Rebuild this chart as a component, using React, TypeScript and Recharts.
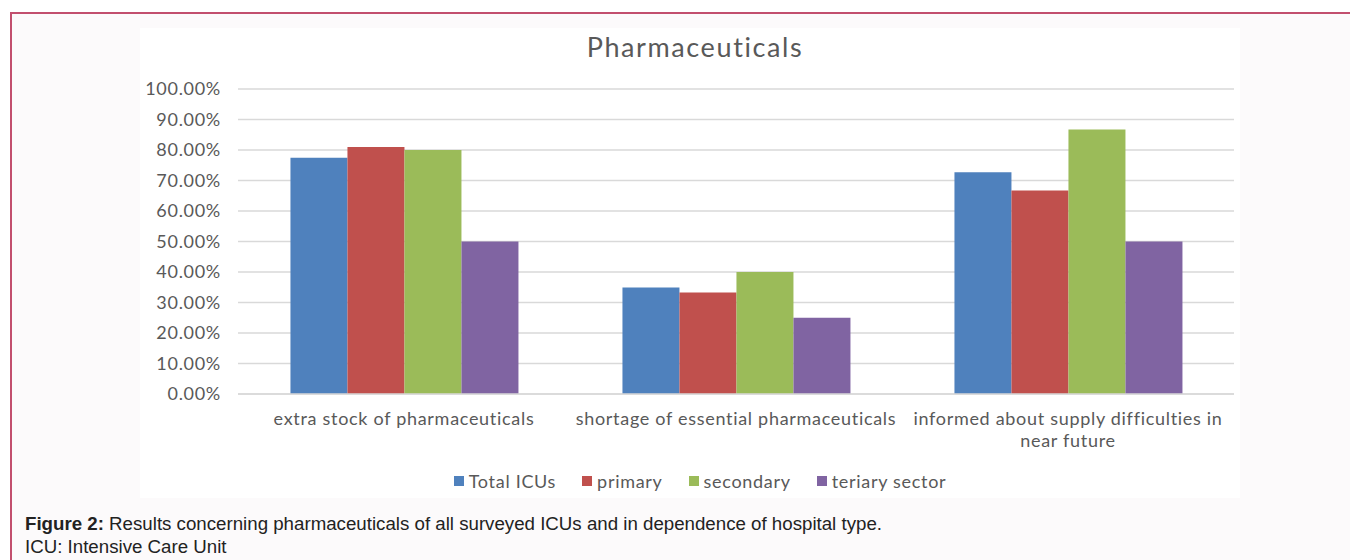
import { Bar, BarChart, CartesianGrid, XAxis, YAxis } from "recharts";

// "\n" marks where the original label wraps
const CATEGORIES = [
  "extra stock of pharmaceuticals",
  "shortage of essential pharmaceuticals",
  "informed about supply difficulties in\nnear future",
];

const TOTAL_ICUS = [0.775, 0.349, 0.727];
const PRIMARY = [0.81, 0.333, 0.667];
const SECONDARY = [0.8, 0.4, 0.867];
const TERTIARY = [0.5, 0.25, 0.5];

const Y_TICKS = [0, 0.1, 0.2, 0.3, 0.4, 0.5, 0.6, 0.7, 0.8, 0.9, 1];

const SERIES = [
  { key: "total", label: "Total ICUs", color: "#4f81bd", values: TOTAL_ICUS },
  { key: "primary", label: "primary", color: "#c0504d", values: PRIMARY },
  { key: "secondary", label: "secondary", color: "#9bbb59", values: SECONDARY },
  { key: "tertiary", label: "teriary sector", color: "#8064a2", values: TERTIARY },
];

const data = CATEGORIES.map((name, i) => {
  const row: Record<string, string | number> = { name };
  SERIES.forEach((s) => {
    row[s.key] = s.values[i];
  });
  return row;
});

const INK = "#595959";
const FONT = "Lato, 'Open Sans', sans-serif";

function CategoryTick({ x, y, payload }: { x?: number; y?: number; payload?: { value: string } }) {
  const lines = (payload?.value ?? "").split("\n");
  return (
    <text
      x={x}
      y={(y ?? 0) + 29}
      textAnchor="middle"
      fill={INK}
      style={{ fontFamily: FONT, fontSize: 18, letterSpacing: 0.7 }}
    >
      {lines.map((line, i) => (
        <tspan key={i} x={x} dy={i === 0 ? 0 : 22}>
          {line}
        </tspan>
      ))}
    </text>
  );
}

export default function App() {
  return (
    <div
      style={{
        position: "relative",
        width: 1358,
        height: 560,
        margin: "-8px -8px 0 -8px",
        overflow: "hidden",
        background: "#fff",
      }}
    >
      <div
        style={{
          position: "absolute",
          left: 10,
          top: 12,
          width: 1400,
          height: 600,
          borderTop: "2px solid #c24f6e",
          borderLeft: "2px solid #c24f6e",
          background: "#fcfafb",
        }}
      />
      <div
        style={{
          position: "absolute",
          left: 140,
          top: 28,
          width: 1100,
          height: 470,
          background: "#fff",
        }}
      >
        <div
          style={{
            position: "absolute",
            left: 0,
            width: 1110,
            top: 2,
            textAlign: "center",
            fontFamily: FONT,
            fontSize: 27,
            letterSpacing: 1.6,
            color: INK,
          }}
        >
          Pharmaceuticals
        </div>
        <BarChart
          width={1100}
          height={470}
          data={data}
          margin={{ top: 61, right: 6, left: 0, bottom: 74 }}
          barCategoryGap="15.8%"
          barGap={0}
        >
          <CartesianGrid vertical={false} stroke="#d9d9d9" strokeWidth={1.5} />
          <YAxis
            width={98}
            domain={[0, 1]}
            ticks={Y_TICKS}
            axisLine={false}
            tickLine={false}
            tickSize={0}
            tickMargin={17}
            tickFormatter={(v: number) => `${(v * 100).toFixed(2)}%`}
            tick={{ fill: INK, fontFamily: FONT, fontSize: 18, letterSpacing: 0.7 }}
          />
          <XAxis
            dataKey="name"
            height={30}
            axisLine={{ stroke: "#d9d9d9", strokeWidth: 1.5 }}
            tickLine={false}
            tickSize={0}
            interval={0}
            tick={<CategoryTick />}
          />
          {SERIES.map((s) => (
            <Bar key={s.key} dataKey={s.key} fill={s.color} isAnimationActive={false} />
          ))}
        </BarChart>
        <div
          style={{
            position: "absolute",
            left: 0,
            width: 1120,
            top: 442,
            display: "flex",
            justifyContent: "center",
            gap: 26,
            fontFamily: FONT,
            fontSize: 18,
            letterSpacing: 0.7,
            color: INK,
          }}
        >
          {SERIES.map((s) => (
            <div key={s.key} style={{ display: "flex", alignItems: "center", gap: 5 }}>
              <span style={{ width: 10, height: 10, background: s.color, display: "inline-block" }} />
              <span>{s.label}</span>
            </div>
          ))}
        </div>
      </div>
      <div
        style={{
          position: "absolute",
          left: 25,
          top: 512,
          fontFamily: "'Liberation Sans', Arial, sans-serif",
          fontSize: 18.7,
          lineHeight: "23px",
          color: "#222",
        }}
      >
        <div>
          <b>Figure 2:</b> Results concerning pharmaceuticals of all surveyed ICUs and in dependence of hospital type.
        </div>
        <div>ICU: Intensive Care Unit</div>
      </div>
    </div>
  );
}
